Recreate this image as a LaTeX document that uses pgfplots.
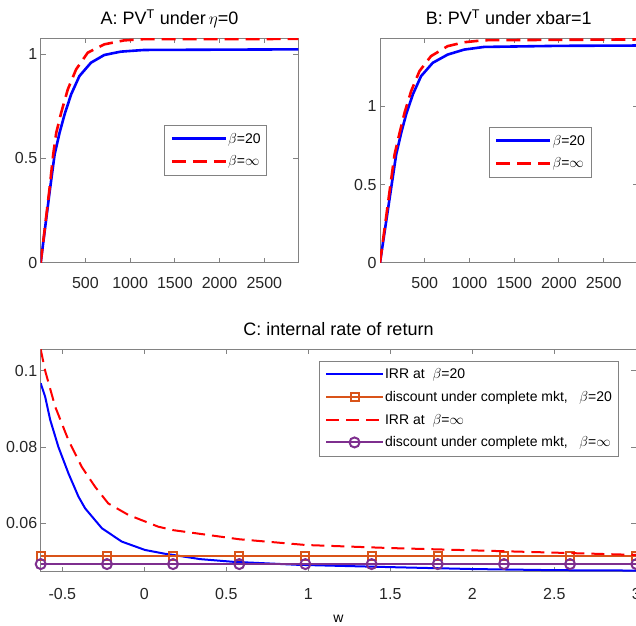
\documentclass[border=0pt]{standalone}
\usepackage{fontspec}
\setmainfont{Liberation Sans}
\usepackage{pgfplots}
\pgfplotsset{compat=1.18}
\definecolor{mgray}{RGB}{130,130,130}
\definecolor{tgray}{RGB}{38,38,38}
\definecolor{mblue}{RGB}{0,0,255}
\definecolor{mred}{RGB}{255,0,0}
\definecolor{morange}{RGB}{217,83,25}
\definecolor{mpurple}{RGB}{126,47,142}

\pgfplotsset{
  mstyle/.style={
    scale only axis,
    axis line style={mgray, line width=0.8pt},
    major tick style={mgray, line width=0.8pt},
    major tick length=5pt,
    tick label style={font=\fontsize{16}{18}\selectfont, text=tgray},
    /pgf/number format/assume math mode=true,
    /pgf/number format/1000 sep={},
    scaled ticks=false,
    title style={font=\fontsize{18}{20}\selectfont, text=black,
      at={(0.5,1)}, anchor=base, yshift=8pt},
    legend style={draw=mgray, text=black,
      font=\fontsize{14}{16}\selectfont,
      inner xsep=6pt, inner ysep=6pt,
      nodes={inner sep=0pt, text height=12pt, text depth=3pt},
      /tikz/column sep=1pt, /tikz/row sep=7.7pt},
    legend cell align=left,
    clip mode=individual,
  },
  pvstyle/.style={
    mstyle, width=257.6pt, height=224.2pt,
    xmin=0, xmax=2880, xtick={500,1000,1500,2000,2500},
    ytick={0,0.5,1},
    xticklabel style={yshift=-11.5pt},
    legend image code/.code={\draw[##1] (0pt,0pt) -- (54pt,0pt);},
  },
}

\begin{document}
\begin{tikzpicture}
\path[use as bounding box] (0pt,0pt) rectangle (636pt,625pt);

% panel A
\begin{axis}[pvstyle, at={(40.7pt,362.3pt)}, anchor=south west,
  ymin=0, ymax=1.075,
  title={A: PV\textsuperscript{T} under\,$\eta$=0},
  legend style={at={(0.48,0.614)}, anchor=north west},
]
  \addplot[mblue, line width=2.6pt] coordinates {
    (0,0) (50,0.17) (100,0.34) (156,0.52) (211,0.623) (267,0.711)
    (340,0.807) (433,0.895) (562,0.959) (711,0.996) (896,1.012)
    (1156,1.020) (2880,1.023)};
  \addlegendentry{$\beta$=20}
  \addplot[mred, line width=2.6pt, dash pattern=on 14pt off 7pt] coordinates {
    (0,0) (50,0.18) (100,0.36) (140,0.52) (174,0.623) (229,0.719)
    (303,0.831) (396,0.927) (526,1.007) (711,1.047) (933,1.066)
    (1156,1.072) (2880,1.073)};
  \addlegendentry{$\beta$=$\infty$}
\end{axis}

% panel B
\begin{axis}[pvstyle, at={(380pt,362.3pt)}, anchor=south west,
  ymin=0, ymax=1.435,
  title={B: PV\textsuperscript{T} under xbar=1},
  legend style={at={(0.422,0.605)}, anchor=north west},
]
  \addplot[mblue, line width=2.6pt] coordinates {
    (0,0) (60,0.23) (120,0.46) (181,0.693) (237,0.831) (292,0.949)
    (367,1.077) (459,1.194) (589,1.279) (756,1.332) (941,1.364)
    (1163,1.381) (2000,1.388) (2880,1.39)};
  \addlegendentry{$\beta$=20}
  \addplot[mred, line width=2.6pt, dash pattern=on 14pt off 7pt] coordinates {
    (0,0) (55,0.235) (110,0.47) (163,0.693) (219,0.831) (274,0.959)
    (348,1.098) (441,1.226) (570,1.322) (756,1.386) (941,1.411)
    (1163,1.424) (2880,1.429)};
  \addlegendentry{$\beta$=$\infty$}
\end{axis}

% panel C
\begin{axis}[mstyle, at={(40.7pt,53.3pt)}, anchor=south west,
  width=595.6pt, height=222.4pt,
  xmin=-0.632, xmax=3, ymin=0.0473, ymax=0.1056,
  xtick={-0.5,0,0.5,1,1.5,2,2.5,3},
  xticklabels={-0.5,0,0.5,1,1.5,2,2.5,3},
  ytick={0.06,0.08,0.1},
  yticklabels={0.06,0.08,0.1},
  xticklabel style={yshift=-13.5pt},
  title={C: internal rate of return},
  xlabel={w},
  xlabel style={font=\fontsize{14}{16}\selectfont, at={(0.5,0)},
    anchor=base, yshift=-51pt},
  legend style={at={(0.467,0.949)}, anchor=north west},
  legend image code/.code={\draw[mark repeat=2, mark phase=2, #1]
    plot coordinates {(0pt,0pt) (28.5pt,0pt) (57pt,0pt)};},
]
  \addplot[mblue, line width=2pt] coordinates {
    (-0.632,0.0967) (-0.605,0.0932) (-0.574,0.0871) (-0.524,0.0800)
    (-0.463,0.0731) (-0.402,0.0670) (-0.361,0.0639) (-0.259,0.0587)
    (-0.138,0.0552) (0.004,0.0530) (0.126,0.0520) (0.175,0.0517)
    (0.34,0.0506) (0.54,0.0499) (0.94,0.0491) (1.5,0.0485)
    (2,0.0480) (2.5,0.0477) (3,0.0476)};
  \addlegendentry{IRR at\hspace{8pt}$\beta$=20}
  \addplot[morange, line width=2pt, mark=square, mark size=4pt,
    mark options={solid}] coordinates {
    (-0.632,0.0514) (-0.228,0.0514) (0.175,0.0514) (0.579,0.0514)
    (0.982,0.0514) (1.386,0.0514) (1.789,0.0514) (2.193,0.0514)
    (2.596,0.0514) (3,0.0514)};
  \addlegendentry{discount under complete mkt,\hspace{11.5pt}$\beta$=20}
  \addplot[mred, line width=2pt, dash pattern=on 13pt off 7pt] coordinates {
    (-0.632,0.1056) (-0.605,0.1000) (-0.544,0.0906) (-0.463,0.0818)
    (-0.382,0.0748) (-0.301,0.0696) (-0.220,0.0652) (-0.098,0.0622)
    (0.085,0.0591) (0.175,0.0582) (0.58,0.0558) (0.985,0.0543)
    (1.5,0.0535) (2,0.0529) (2.5,0.0523) (3,0.0517)};
  \addlegendentry{IRR at\hspace{8pt}$\beta$=$\infty$}
  \addplot[mpurple, line width=2pt, mark=o, mark size=5pt,
    mark options={solid}] coordinates {
    (-0.632,0.0493) (-0.228,0.0493) (0.175,0.0493) (0.579,0.0493)
    (0.982,0.0493) (1.386,0.0493) (1.789,0.0493) (2.193,0.0493)
    (2.596,0.0493) (3,0.0493)};
  \addlegendentry{discount under complete mkt,\hspace{11.5pt}$\beta$=$\infty$}
\end{axis}
\end{tikzpicture}
\end{document}
